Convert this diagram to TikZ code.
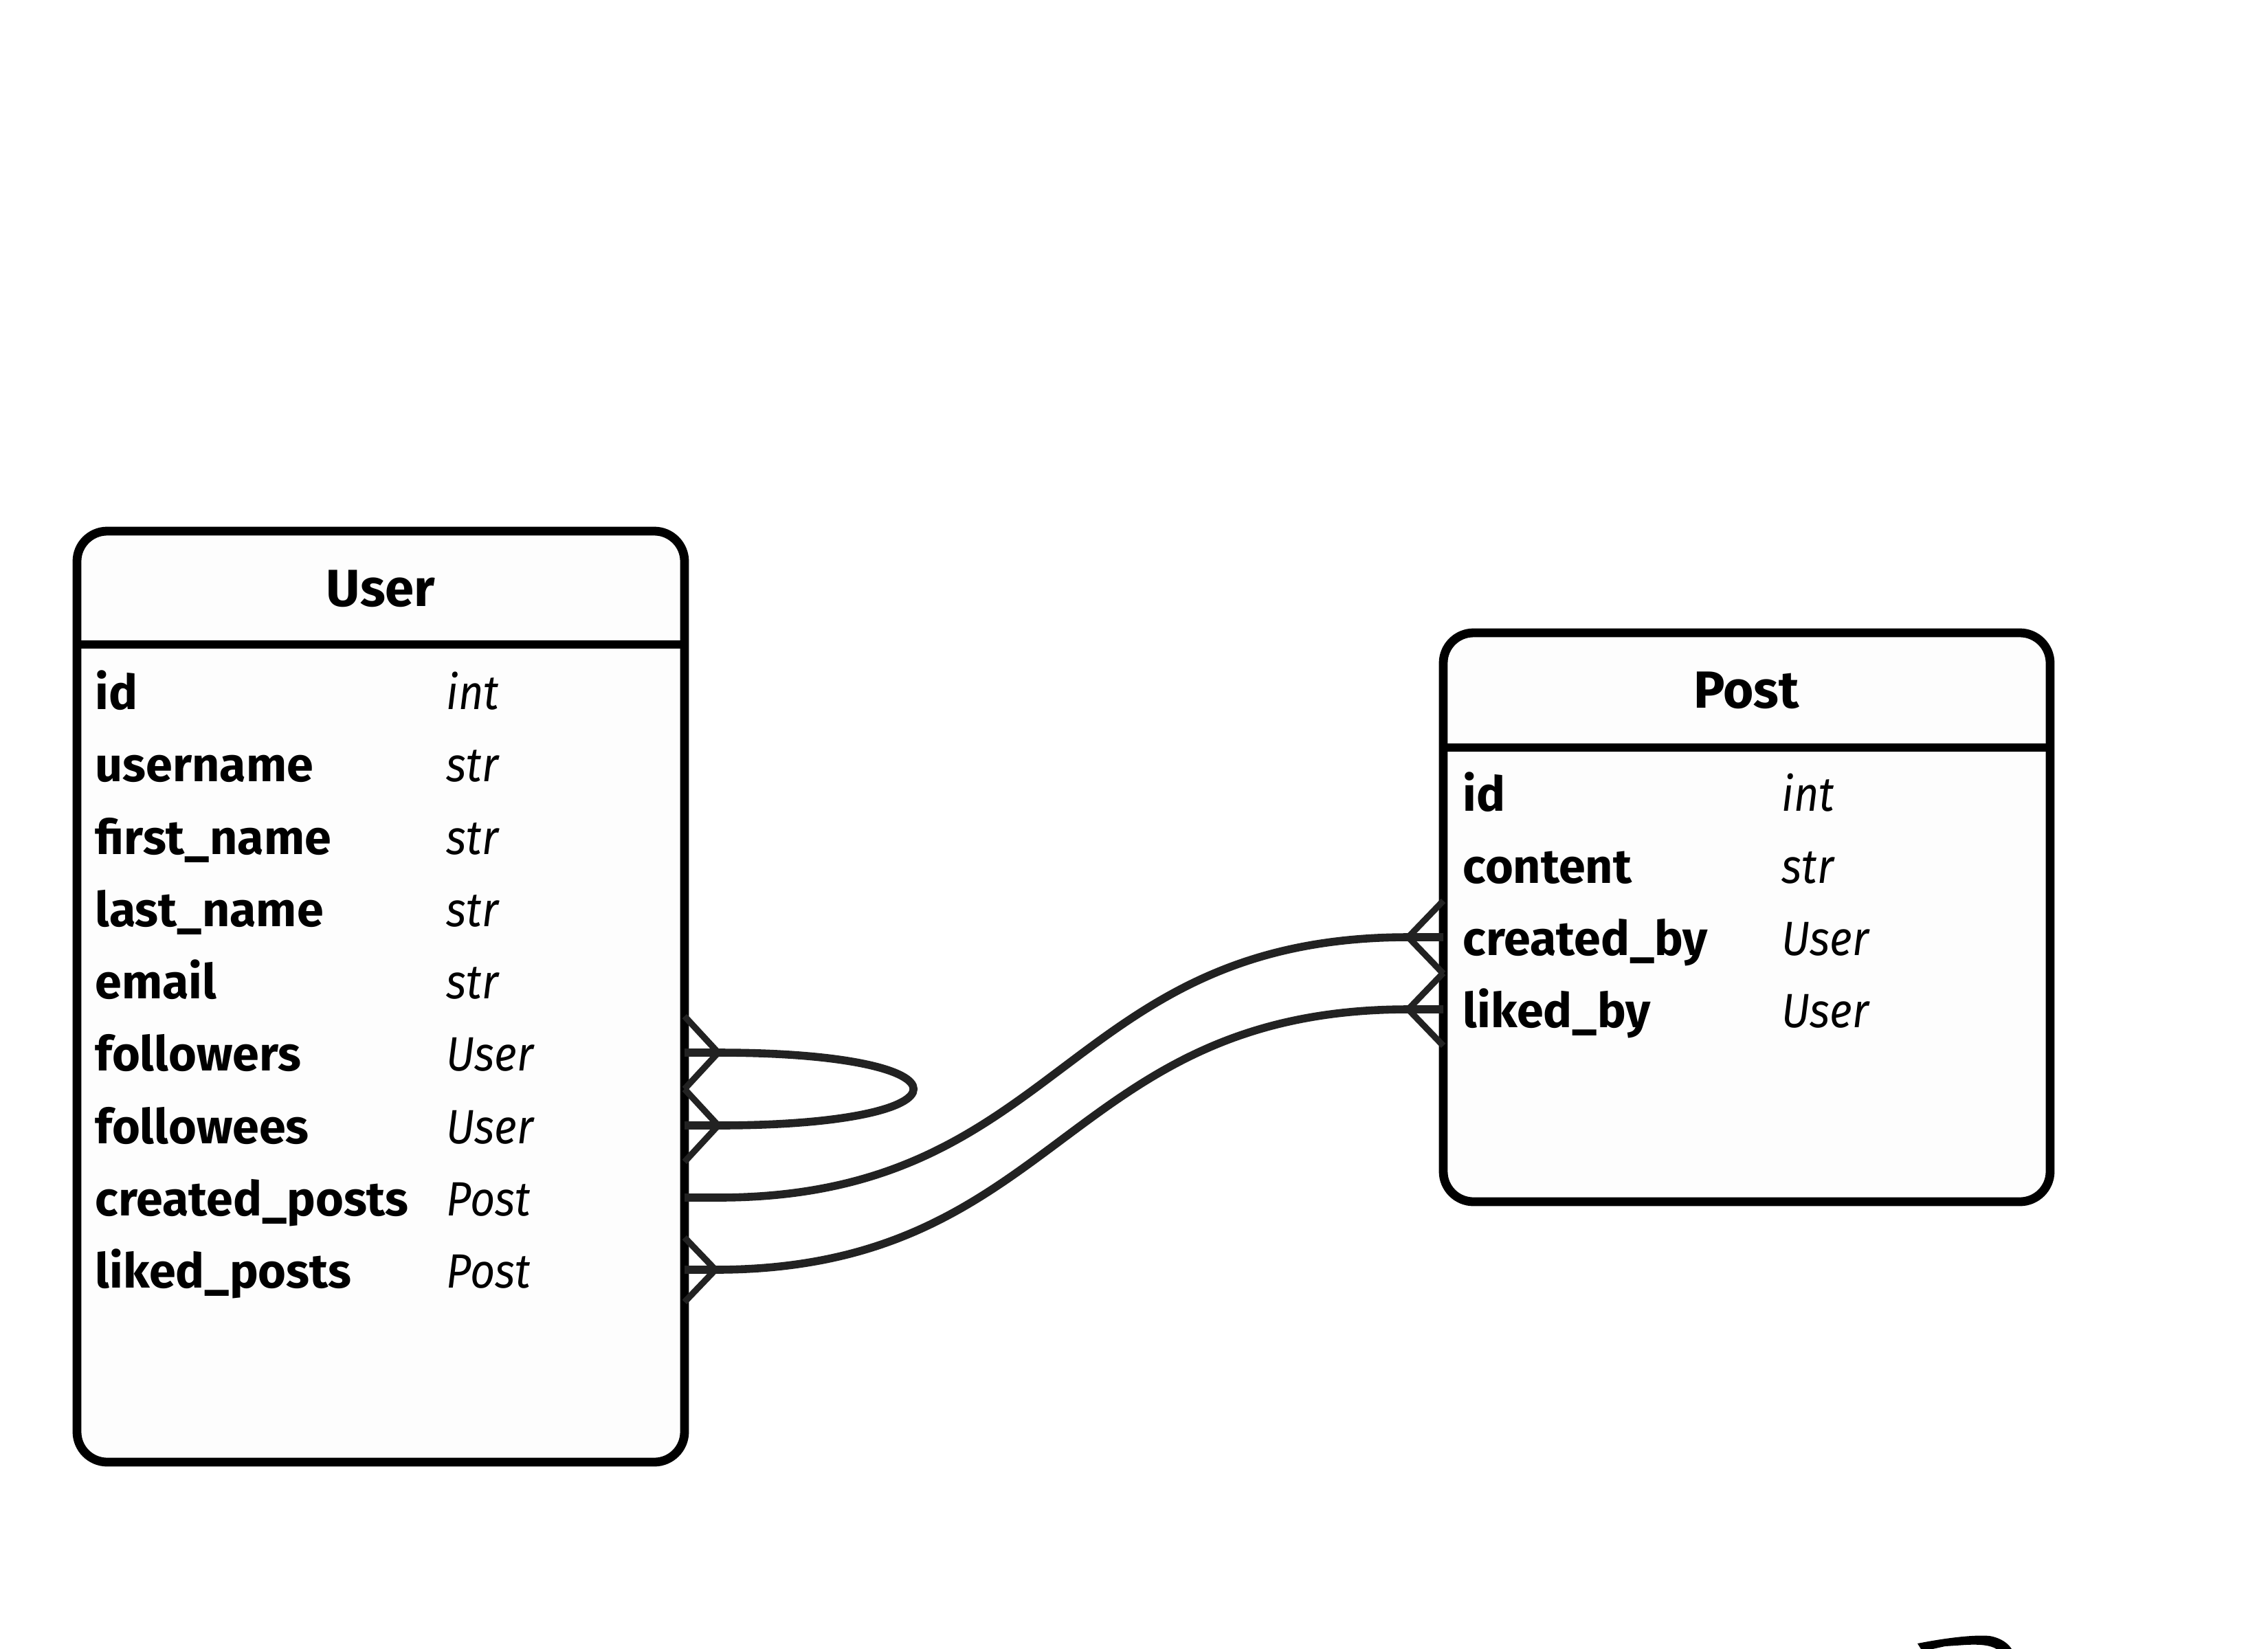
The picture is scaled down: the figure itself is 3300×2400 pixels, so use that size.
\documentclass[tikz,border=0pt]{standalone}
\usepackage{fontspec}
\setmainfont{Fira Sans}
\newfontfamily\typefont[FakeStretch=0.9]{Fira Sans}
\usetikzlibrary{calc}
\definecolor{conn}{HTML}{222222}
\definecolor{boxfill}{HTML}{FDFDFD}
\tikzset{
  tbox/.style={draw=black, fill=boxfill, line width=3.2pt, rounded corners=11pt, inner sep=0pt, outer sep=0pt, anchor=north west},
  divline/.style={draw=black, line width=3.2pt},
  fname/.style={anchor=base west, inner sep=0pt, font=\fontsize{17.5}{20}\selectfont\bfseries},
  ftype/.style={anchor=base west, inner sep=0pt, font=\typefont\fontsize{17.5}{20}\selectfont\itshape},
  thead/.style={anchor=base, inner sep=0pt, font=\fontsize{19}{21}\selectfont\bfseries},
  rel/.style={draw=conn, line width=2.9pt},
  crow/.style={draw=conn, line width=2.3pt, line join=miter},
}
\begin{document}
\begin{tikzpicture}[x=0.25pt, y=-0.25pt]
\fill[white] (0,0) rectangle (3300,2400);
\useasboundingbox (0,0) rectangle (3300,2400);

% ---------- User table ----------
\node[tbox, minimum width=221pt, minimum height=338.75pt] (user) at (112,773) {};
\draw[divline] ($(user.north west)+(0,165)$) -- ($(user.north east)+(0,165)$);
\node[thead] (userh) at (554,882) {User};
\node[fname] (u1) at (138,1032) {id};          \node[ftype] (t1) at (649,1032) {int};
\node[fname] (u2) at (138,1137) {username};    \node[ftype] (t2) at (649,1137) {str};
\node[fname] (u3) at (138,1243) {first\_name}; \node[ftype] (t3) at (649,1243) {str};
\node[fname] (u4) at (138,1348) {last\_name};  \node[ftype] (t4) at (649,1348) {str};
\node[fname] (u5) at (138,1453) {email};       \node[ftype] (t5) at (649,1453) {str};
\node[fname] (u6) at (138,1558) {followers};   \node[ftype] (t6) at (649,1558) {User};
\node[fname] (u7) at (138,1664) {followees};   \node[ftype] (t7) at (649,1664) {User};
\node[fname] (u8) at (138,1769) {created\_posts}; \node[ftype] (t8) at (649,1769) {Post};
\node[fname] (u9) at (138,1874) {liked\_posts};   \node[ftype] (t9) at (649,1874) {Post};

% ---------- Post table ----------
\node[tbox, minimum width=220.75pt, minimum height=207pt] (post) at (2100,921) {};
\draw[divline] ($(post.north west)+(0,167)$) -- ($(post.north east)+(0,167)$);
\node[thead] (posth) at (2541,1030) {Post};
\node[fname] (p1) at (2128,1180) {id};          \node[ftype] (q1) at (2592,1180) {int};
\node[fname] (p2) at (2128,1285) {content};     \node[ftype] (q2) at (2592,1285) {str};
\node[fname] (p3) at (2128,1390) {created\_by}; \node[ftype] (q3) at (2592,1390) {User};
\node[fname] (p4) at (2128,1495) {liked\_by};   \node[ftype] (q4) at (2592,1495) {User};

% ---------- ports ----------
\coordinate (ufo) at (user.east |- 0,1532);
\coordinate (ufe) at (user.east |- 0,1638);
\coordinate (ucp) at (user.east |- 0,1743);
\coordinate (ulp) at (user.east |- 0,1848);
\coordinate (pcb) at (post.west |- 0,1364);
\coordinate (plb) at (post.west |- 0,1469);

% ---------- connectors ----------
\draw[rel] (ufo) -- ++(49,0) .. controls +(379,0) and +(379,0) .. ($(ufe)+(49,0)$) -- (ufe);
\draw[rel] (ucp) -- ++(49,0) .. controls +(500,0) and +(-500,0) .. ($(pcb)+(-51,0)$) -- (pcb);
\draw[rel] (ulp) -- ++(45,0) .. controls +(500,0) and +(-500,0) .. ($(plb)+(-51,0)$) -- (plb);

% ---------- crow's feet ----------
\draw[crow] ($(ufo)+(0,-53)$) -- ($(ufo)+(49,0)$) -- ($(ufo)+(0,53)$);
\draw[crow] ($(ufe)+(0,-53)$) -- ($(ufe)+(49,0)$) -- ($(ufe)+(0,53)$);
\draw[crow] ($(ulp)+(0,-47)$) -- ($(ulp)+(45,0)$) -- ($(ulp)+(0,47)$);
\draw[crow] ($(pcb)+(0,-53)$) -- ($(pcb)+(-51,0)$) -- ($(pcb)+(0,53)$);
\draw[crow] ($(plb)+(0,-53)$) -- ($(plb)+(-51,0)$) -- ($(plb)+(0,53)$);

% ---------- cut-off glyph at bottom right ----------
\fill[black] (2790,2392) .. controls (2835,2383) and (2875,2379) .. (2895,2381)
  .. controls (2912,2384) and (2922,2392) .. (2927,2400)
  -- (2905,2400) .. controls (2895,2394) and (2880,2393) .. (2860,2394)
  -- (2830,2396) -- (2812,2400) -- (2795,2400) -- cycle;
\end{tikzpicture}
\end{document}
